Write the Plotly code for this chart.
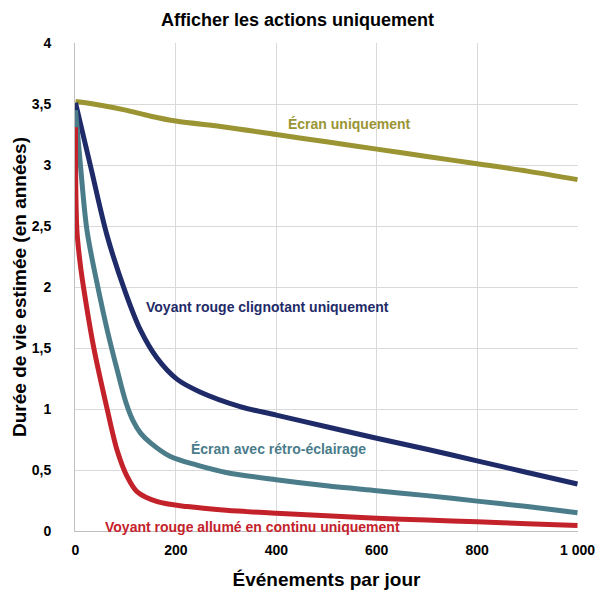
import plotly.graph_objects as go

# Data
x_ecran = [0, 50, 100, 150, 200, 300, 400, 500, 600, 700, 800, 900, 1000]
y_ecran = [3.52, 3.49, 3.45, 3.40, 3.36, 3.31, 3.25, 3.19, 3.13, 3.07, 3.01, 2.95, 2.88]

x_clign = [0, 30, 63, 100, 129, 162, 202, 248, 328, 400, 500, 600, 700, 800, 900, 1000]
y_clign = [3.51, 2.99, 2.42, 1.95, 1.65, 1.42, 1.245, 1.14, 1.02, 0.95, 0.855, 0.76, 0.67, 0.575, 0.48, 0.385]

x_retro = [0, 10, 23, 47, 63, 83, 100, 115, 130, 150, 189, 242, 300, 400, 500, 600, 700, 800, 900, 1000]
y_retro = [3.45, 2.99, 2.46, 1.95, 1.65, 1.32, 1.06, 0.90, 0.80, 0.72, 0.61, 0.54, 0.48, 0.42, 0.37, 0.33, 0.29, 0.245, 0.20, 0.15]

x_continu = [0, 0.6, 3, 10, 17, 36, 63, 83, 103, 123, 163, 223, 300, 400, 500, 600, 700, 800, 900, 1000]
y_continu = [3.31, 2.80, 2.45, 2.17, 1.97, 1.51, 1.00, 0.66, 0.445, 0.32, 0.24, 0.20, 0.17, 0.145, 0.125, 0.105, 0.09, 0.075, 0.06, 0.045]

x_ticks = [0, 200, 400, 600, 800, 1000]
x_ticklabels = ["0", "200", "400", "600", "800", "1 000"]
y_ticks = [0, 0.5, 1, 1.5, 2, 2.5, 3, 3.5, 4]
y_ticklabels = ["0", "0,5", "1", "1,5", "2", "2,5", "3", "3,5", "4"]

FONT = "Liberation Sans Narrow, Arial Narrow, Liberation Sans, Arial, sans-serif"

series = [
    ("Écran uniquement", x_ecran, y_ecran, "#9A9433"),
    ("Voyant rouge clignotant uniquement", x_clign, y_clign, "#1F2B68"),
    ("Écran avec rétro-éclairage", x_retro, y_retro, "#4A7C8A"),
    ("Voyant rouge allumé en continu uniquement", x_continu, y_continu, "#C4222B"),
]

fig = go.Figure()
for name, xs, ys, col in series:
    fig.add_trace(go.Scatter(x=xs, y=ys, mode="lines", name=name,
                             line=dict(color=col, width=5, shape="spline", smoothing=0.9)))

labels = [
    ("Écran uniquement", 544, 3.34, "#9A9433"),
    ("Voyant rouge clignotant uniquement", 382, 1.84, "#1F2B68"),
    ("Écran avec rétro-éclairage", 404, 0.67, "#4A7C8A"),
    ("Voyant rouge allumé en continu uniquement", 353, 0.03, "#C4222B"),
]
for txt, lx, ly, col in labels:
    fig.add_annotation(x=lx, y=ly, text="<b>" + txt + "</b>", showarrow=False,
                       font=dict(family=FONT, size=14, color=col))

fig.update_layout(
    width=595, height=590,
    margin=dict(l=75, r=17, t=43, b=59),
    paper_bgcolor="white", plot_bgcolor="white",
    showlegend=False,
    separators=", ",
    font=dict(family=FONT, color="#000000"),
    title=dict(text="<b>Afficher les actions uniquement</b>", x=0.5, xanchor="center",
               y=0.966, yanchor="middle", font=dict(size=18, family=FONT, color="#000")),
)
fig.update_xaxes(range=[-1, 1001], tickvals=x_ticks, ticktext=["<b>%s</b>" % t for t in x_ticklabels],
                 showgrid=True, gridcolor="#D9D9D9", gridwidth=1, automargin=False,
                 ticklabeloverflow="allow",
                 showline=True, linecolor="#BFBFBF", zeroline=False, ticklabelstandoff=6,
                 tickfont=dict(size=14, family=FONT, color="#000"),
                 title=dict(text="<b>Événements par jour</b>", font=dict(size=19, family=FONT, color="#000"), standoff=16))
fig.update_yaxes(range=[0, 4], tickvals=y_ticks, ticktext=["<b>%s</b>" % t for t in y_ticklabels],
                 showgrid=True, gridcolor="#D9D9D9", gridwidth=1, automargin=False,
                 ticklabeloverflow="allow",
                 showline=True, linecolor="#BFBFBF", zeroline=False,
                 tickfont=dict(size=14, family=FONT, color="#000"), ticks="", ticklabelstandoff=20,
                 title=dict(text="<b>Durée de vie estimée (en années)</b>", font=dict(size=19, family=FONT, color="#000"), standoff=0))

fig.write_html("out.html")
